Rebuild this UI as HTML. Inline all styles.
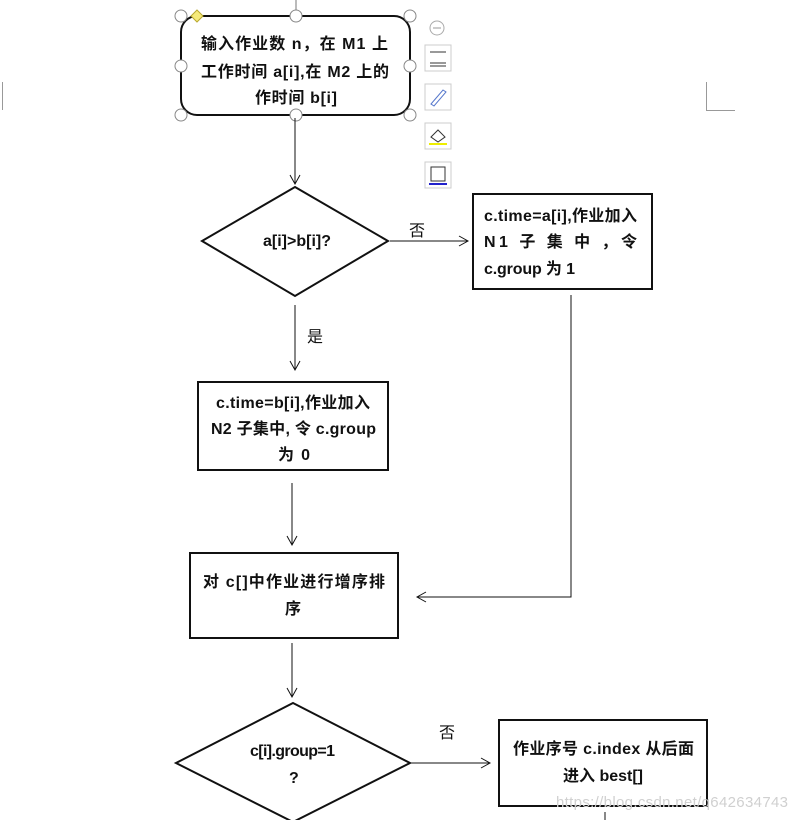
<!DOCTYPE html>
<html><head><meta charset="utf-8"><style>
html,body{margin:0;padding:0;background:#fff;width:797px;height:820px;overflow:hidden}
svg text{font-family:"Liberation Sans","Noto Sans CJK SC",sans-serif;font-size:16px;fill:#111}
</style></head><body>
<svg width="797" height="820" viewBox="0 0 797 820" xmlns="http://www.w3.org/2000/svg">
<defs><marker id="a" markerWidth="12" markerHeight="12" refX="10" refY="6" orient="auto" markerUnits="userSpaceOnUse"><path d="M1,1 L10,6 L1,11" fill="none" stroke="#111" stroke-width="1"/></marker></defs>
<g stroke="#999" stroke-width="1" fill="none">
<line x1="2.5" y1="82" x2="2.5" y2="110"/><line x1="706.5" y1="82" x2="706.5" y2="110"/><line x1="706" y1="110.5" x2="735" y2="110.5"/>
</g>
<line x1="296" y1="0" x2="296" y2="16" stroke="#777"/>
<rect x="181" y="16" width="229" height="99" rx="16" fill="#fff" stroke="#111" stroke-width="2"/>
<g fill="#fff" stroke="#888">
<circle cx="181" cy="16" r="6"/><circle cx="296" cy="16" r="6"/><circle cx="410" cy="16" r="6"/>
<circle cx="181" cy="66" r="6"/><circle cx="410" cy="66" r="6"/>
<circle cx="181" cy="115" r="6"/><circle cx="296" cy="115" r="6"/><circle cx="410" cy="115" r="6"/>
</g>
<path d="M197,10 L203,16 L197,22 L191,16Z" fill="#f5ea7a" stroke="#b8a830"/>
<g font-weight="bold" lengthAdjust="spacingAndGlyphs">
<text x="201" y="49" textLength="187">输入作业数 n，在 M1 上</text>
<text x="201" y="77" textLength="188">工作时间 a[i],在 M2 上的</text>
<text x="255" y="103" textLength="82">作时间 b[i]</text>
</g>
<circle cx="437" cy="28" r="7" fill="#fff" stroke="#aaa"/><line x1="433" y1="28" x2="441" y2="28" stroke="#999"/>
<g fill="#fff" stroke="#ccc"><rect x="425" y="45" width="26" height="26"/><rect x="425" y="84" width="26" height="26"/><rect x="425" y="123" width="26" height="26"/><rect x="425" y="162" width="26" height="26"/></g>
<g stroke="#333"><line x1="430" y1="52" x2="446" y2="52"/><line x1="430" y1="63" x2="446" y2="63"/><line x1="430" y1="66" x2="446" y2="66"/></g>
<path d="M431,104 L443,90 L446,92 L434,106Z" fill="none" stroke="#5577cc"/>
<line x1="429" y1="144" x2="447" y2="144" stroke="#ee0" stroke-width="2"/><path d="M431,137 L438,130 L445,137 L438,142Z" fill="none" stroke="#333"/>
<rect x="431" y="167" width="14" height="14" fill="none" stroke="#333"/><line x1="429" y1="184" x2="447" y2="184" stroke="#22c" stroke-width="2"/>
<g stroke="#111" stroke-width="1" fill="none" marker-end="url(#a)">
<line x1="295" y1="118" x2="295" y2="184"/>
<line x1="390" y1="241" x2="468" y2="241"/>
<line x1="295" y1="305" x2="295" y2="370"/>
<line x1="292" y1="483" x2="292" y2="545"/>
<polyline points="571,295 571,597 417,597"/>
<line x1="292" y1="643" x2="292" y2="697"/>
<line x1="411" y1="763" x2="490" y2="763"/>
</g>
<line x1="605" y1="812" x2="605" y2="820" stroke="#111"/>
<g fill="#fff" stroke="#111" stroke-width="2">
<path d="M295,187 L388,241 L295,296 L202,241Z"/>
<rect x="473" y="194" width="179" height="95"/>
<rect x="198" y="382" width="190" height="88"/>
<rect x="190" y="553" width="208" height="85"/>
<path d="M293,703 L410,763 L293,822 L176,763Z"/>
<rect x="499" y="720" width="208" height="86"/>
</g>
<g font-weight="bold" lengthAdjust="spacingAndGlyphs">
<text x="263" y="246" textLength="68">a[i]&gt;b[i]?</text>
<text x="484" y="221" textLength="153">c.time=a[i],作业加入</text>
<text x="484" y="247" textLength="153">N1  子  集  中  ，令</text>
<text x="484" y="274" textLength="91">c.group 为 1</text>
<text x="216" y="408" textLength="154">c.time=b[i],作业加入</text>
<text x="211" y="434" textLength="165">N2 子集中, 令 c.group</text>
<text x="278" y="460" textLength="32">为 0</text>
<text x="203" y="587" textLength="182">对 c[]中作业进行增序排</text>
<text x="285" y="614" textLength="16">序</text>
<text x="250" y="756" textLength="85">c[i].group=1</text>
<text x="289" y="783" textLength="8">?</text>
<text x="513" y="754" textLength="181">作业序号 c.index 从后面</text>
<text x="563" y="781" textLength="80">进入 best[]</text>
</g>
<text x="409" y="236">否</text>
<text x="307" y="342">是</text>
<text x="439" y="738">否</text>
<text x="556" y="807" textLength="232" style="font-size:15px;fill:#d0d0d0">https://blog.csdn.net/q642634743</text>
</svg>
</body></html>
